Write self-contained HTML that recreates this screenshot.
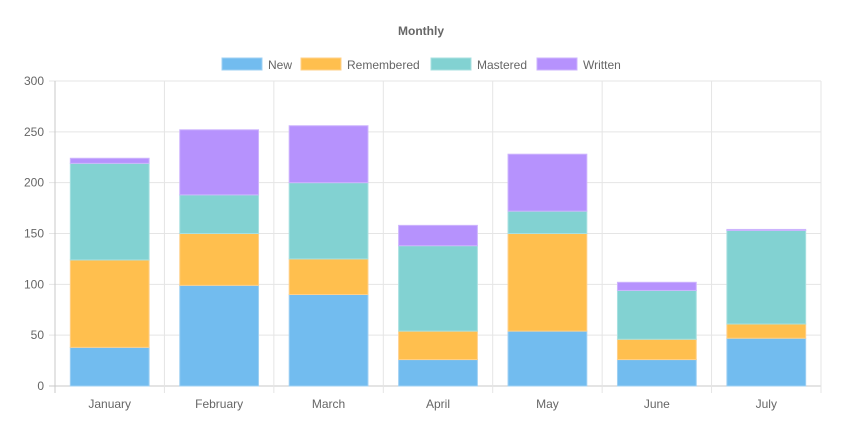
<!DOCTYPE html>
<html><head><meta charset="utf-8"><style>
body{margin:0;background:#fff;}
svg text{font-family:"Liberation Sans",Arial,sans-serif;fill:#666;font-size:12px;}
</style></head><body>
<svg id="chart" width="855" height="424" xmlns="http://www.w3.org/2000/svg">
<text x="421" y="35" text-anchor="middle" font-weight="bold">Monthly</text>
<g id="legend"></g><g id="grid"></g><g id="bars"></g><g id="axes"></g>
</svg>
<script>
const categories=["January","February","March","April","May","June","July"];
const seriesNames=["New","Remembered","Mastered","Written"];
const newVals=[38,99,90,26,54,26,47];
const rememberedVals=[86,51,35,28,96,20,14];
const masteredVals=[95,38,75,84,22,48,92];
const writtenVals=[5,64,56,20,56,8,1];
const yTicks=[0,50,100,150,200,250,300];
const series=[newVals,rememberedVals,masteredVals,writtenVals];
const colors=["#72bcef","#ffbf4e","#82d2d2","#b692fd"];
const borders=["#9fd0f3","#ffd08a","#a8e0e0","#cdb4fd"];
const NS="http://www.w3.org/2000/svg";
const X0=55,X1=821,Y0=386,Y1=81,YMAX=300;
const bandW=(X1-X0)/categories.length;
const y=v=>Y0-(v/YMAX)*(Y0-Y1);
const xc=i=>X0+bandW*(i+0.5);
function mk(tag,attrs,parent){const e=document.createElementNS(NS,tag);for(const k in attrs)e.setAttribute(k,attrs[k]);parent.appendChild(e);return e;}
const grid=document.getElementById('grid'),bars=document.getElementById('bars'),axes=document.getElementById('axes'),legend=document.getElementById('legend');
yTicks.forEach(t=>{
  const l=mk('line',{x1:X0-6,x2:X1,y1:y(t),y2:y(t),stroke:t===0?'#c8c8c8':'#e5e5e5'},grid);
  
  
  const tx=mk('text',{x:X0-11,y:y(t)+4,'text-anchor':'end'},axes);
  tx.textContent=t;
  
  
});
for(let i=0;i<=categories.length;i++){
  const gx=X0+bandW*i;
  const l=mk('line',{x1:gx,x2:gx,y1:Y1,y2:Y0+7,stroke:i===0?'#c8c8c8':'#e5e5e5'},grid);
  
  
}
const barW=bandW*0.72;
categories.forEach((c,i)=>{
  let base=0;
  series.forEach((s,si)=>{
    const v=s[i];
    const r=mk('rect',{x:xc(i)-barW/2,y:y(base+v),width:barW,height:y(base)-y(base+v),fill:colors[si],stroke:borders[si],'stroke-width':1},bars);
    
    
    base+=v;
  });
  const tx=mk('text',{x:xc(i),y:Y0+22,'text-anchor':'middle'},axes);
  tx.textContent=c;
  
  
});
const legX=[222,301,431,537];
seriesNames.forEach((n,i)=>{
  const g=mk('g',{},legend);
  
  
  mk('rect',{x:legX[i],y:58,width:40,height:12,fill:colors[i],stroke:borders[i]},g);
  const t=mk('text',{x:legX[i]+46,y:69},g);
  t.textContent=n;
});
</script>
</body></html>
